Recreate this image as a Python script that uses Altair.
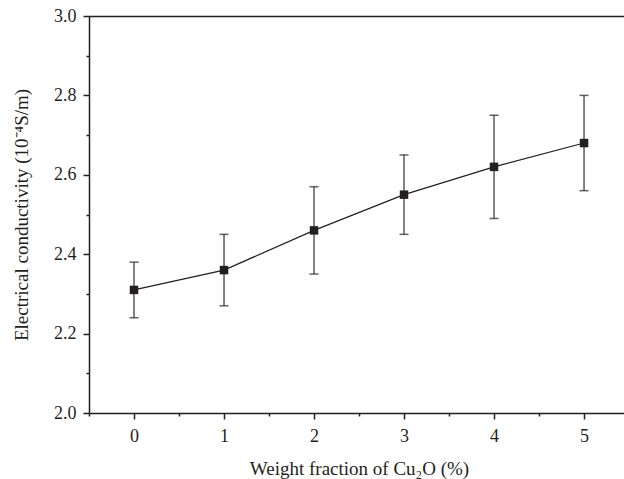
import altair as alt
import pandas as pd

# Weight fraction of Cu2O (%) and measured conductivity (10^-4 S/m)
fraction = [0, 1, 2, 3, 4, 5]
conductivity = [2.31, 2.36, 2.46, 2.55, 2.62, 2.68]
err_low = [2.24, 2.27, 2.35, 2.45, 2.49, 2.56]
err_high = [2.38, 2.45, 2.57, 2.65, 2.75, 2.80]

x_ticks = [-0.5, 0, 0.5, 1, 1.5, 2, 2.5, 3, 3.5, 4, 4.5, 5]
y_ticks = [2.0, 2.1, 2.2, 2.3, 2.4, 2.5, 2.6, 2.7, 2.8, 2.9, 3.0]

df = pd.DataFrame({
    "frac": fraction,
    "cond": conductivity,
    "lo": err_low,
    "hi": err_high,
})

INK = "#231f20"
FONT = "Liberation Serif"

x_scale = alt.Scale(domain=[-0.5, 5.444], nice=False, zero=False)
y_scale = alt.Scale(domain=[2.0, 3.0], nice=False, zero=False)

x_axis = alt.Axis(
    values=x_ticks,
    labelExpr="datum.value % 1 === 0 ? format(datum.value, 'd') : ''",
    tickSize={"condition": {"test": "datum.value % 1 !== 0", "value": 3}, "value": 6},
    title="Weight fraction of Cu₂O (%)",
    titleX=270,
    grid=False,
    labelPadding=8,
    titlePadding=14,
)
y_axis = alt.Axis(
    values=y_ticks,
    labelExpr="round(datum.value * 10) % 2 === 0 ? format(datum.value, '.1f') : ''",
    tickSize={"condition": {"test": "round(datum.value * 10) % 2 !== 0", "value": 3}, "value": 6},
    title="Electrical conductivity (10⁻⁴S/m)",
    grid=False,
    labelPadding=7,
    titlePadding=22,
)

base = alt.Chart(df)

# top frame line drawn through a second x axis
frame_top = base.mark_rule(color="#5a5a5a", strokeWidth=1.5).encode(
    x=alt.X("frac:Q", scale=x_scale,
            axis=alt.Axis(orient="top", labels=False, ticks=False, title=None,
                          grid=False, domainColor=INK, domainWidth=1.5)),
    y=alt.Y("lo:Q", scale=y_scale, axis=y_axis),
    y2="hi:Q",
)

caps_lo = base.mark_tick(orient="horizontal", size=9, thickness=1.5, color=INK).encode(
    x=alt.X("frac:Q", scale=x_scale, axis=x_axis),
    y=alt.Y("lo:Q", scale=y_scale, axis=y_axis),
)
caps_hi = base.mark_tick(orient="horizontal", size=9, thickness=1.5, color=INK).encode(
    x=alt.X("frac:Q", scale=x_scale, axis=x_axis),
    y=alt.Y("hi:Q", scale=y_scale, axis=y_axis),
)
line = base.mark_line(color=INK, strokeWidth=1.2).encode(
    x=alt.X("frac:Q", scale=x_scale, axis=x_axis),
    y=alt.Y("cond:Q", scale=y_scale, axis=y_axis),
)
points = base.mark_square(size=72, color=INK, opacity=1).encode(
    x=alt.X("frac:Q", scale=x_scale, axis=x_axis),
    y=alt.Y("cond:Q", scale=y_scale, axis=y_axis),
)

main = alt.layer(caps_lo, caps_hi, line, points)

chart = alt.layer(frame_top, main).resolve_axis(x="independent").properties(
    width=535,
    height=397,
    autosize=alt.AutoSizeParams(type="none"),
    padding={"left": 89, "top": 16, "right": 0, "bottom": 66},
).configure_view(stroke=None).configure_axis(
    domainColor=INK,
    domainWidth=1.5,
    tickColor=INK,
    tickWidth=1.5,
    labelFont=FONT,
    labelFontSize=18,
    labelColor=INK,
    titleFont=FONT,
    titleFontSize=19,
    titleFontWeight="normal",
    titleColor=INK,
)

chart.save("out.html", embed_options={"renderer": "svg", "actions": False})
